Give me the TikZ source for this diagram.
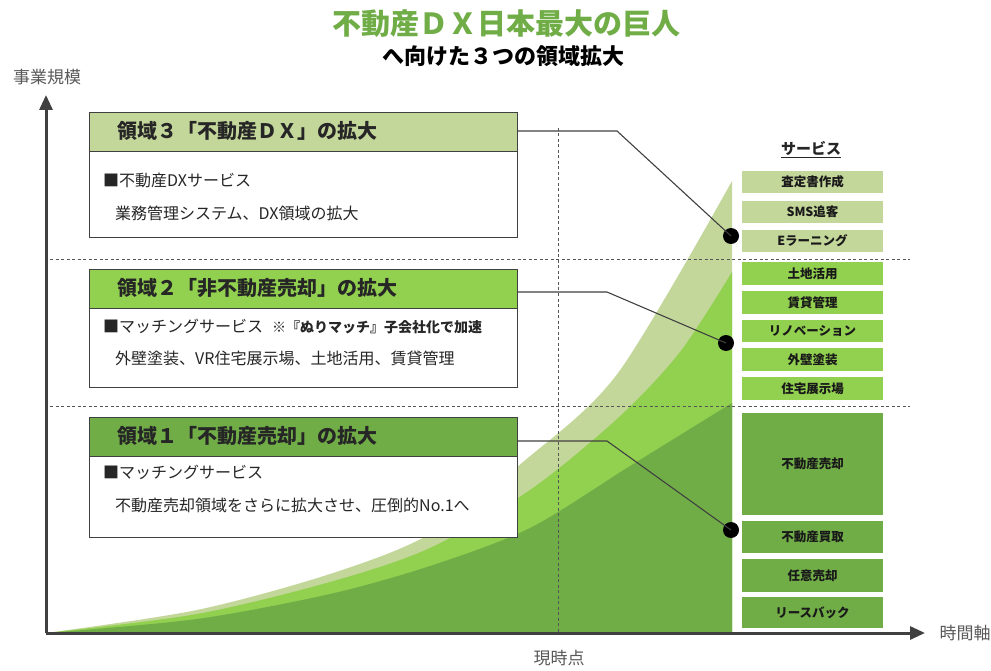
\documentclass[tikz,border=0pt]{standalone}
\usepackage{fontspec}
\setmainfont{Noto Sans CJK JP}
\usetikzlibrary{arrows.meta}
\definecolor{gOlive}{HTML}{C4D79B}
\definecolor{gLight}{HTML}{92D050}
\definecolor{gDark}{HTML}{70AD47}
\definecolor{axisc}{HTML}{404040}
\definecolor{txt}{HTML}{262626}
\definecolor{dashc}{HTML}{555555}
\tikzset{
  hdr/.style={draw=axisc, line width=1.2pt, minimum width=428pt, minimum height=39pt, inner sep=0pt},
  bodybox/.style={draw=axisc, line width=1.2pt, fill=white, minimum width=428pt, inner sep=0pt},
  hdrtext/.style={anchor=west, font=\bfseries\fontsize{20}{24}\selectfont, text=txt, inner sep=0pt},
  bodytext/.style={anchor=west, font=\fontsize{16}{19}\selectfont, text=txt, inner sep=0pt},
  svc/.style={minimum width=141pt, inner sep=0pt, font=\bfseries\fontsize{12.5}{15}\selectfont, text=black!90},
  conn/.style={draw=axisc, line width=1.1pt},
  dotc/.style={circle, fill=black, minimum size=16pt, inner sep=0pt},
  guide/.style={draw=dashc, line width=0.9pt, dash pattern=on 3pt off 2.5pt},
  axislbl/.style={font=\fontsize{17}{20}\selectfont, text=black!65},
  axisline/.style={draw=axisc, line width=3pt, -{Triangle[length=15pt,width=13pt]}}
}
\begin{document}
\begin{tikzpicture}[x=1pt,y=-1pt]
\useasboundingbox (0,0) rectangle (991,671);
\fill[white] (0,0) rectangle (991,671);

% area chart
\fill[gOlive] plot[smooth, tension=0.5] coordinates {(46,633) (197,610) (330,574) (430,534) (523,462) (618,373) (732,181)} -- (732,633) -- cycle;
\fill[gLight] plot[smooth, tension=0.5] coordinates {(46,633) (197,614) (330,582) (430,548) (530,490) (618,418) (680,352) (732,272)} -- (732,633) -- cycle;
\fill[gDark] plot[smooth, tension=0.5] coordinates {(46,633) (197,619) (330,594) (430,566) (530,528) (630,466) (732,403)} -- (732,633) -- cycle;

% guides
\draw[guide] (50,259) -- (910,259);
\draw[guide] (50,406) -- (910,406);
\draw[guide] (558,128) -- (558,633);

% title
\node[font=\bfseries\fontsize{29}{33}\selectfont, text=gDark] (title1) at (506,24) {不動産ＤＸ日本最大の巨人};
\node[font=\bfseries\fontsize{22}{26}\selectfont, text=black] (title2) at (503,56) {へ向けた３つの領域拡大};

% axes
\coordinate (origin) at (46,633);
\coordinate (ytip) at (46,95);
\coordinate (xtip) at (925,633);
\draw[axisline] (origin) -- (ytip);
\draw[axisline] (origin) -- (xtip);
\node[axislbl] (ylbl) at (47,77) {事業規模};
\node[axislbl, anchor=west] (xlbl) at (936,633) {時間軸};
\node[axislbl] (nowlbl) at (559,658) {現時点};

% box 3
\node[bodybox, minimum height=87pt, anchor=north west] (b3) at (89,150) {};
\node[hdr, fill=gOlive, anchor=north west] (h3) at (89,112) {};
\node[hdrtext] (h3t) at (117,131) {領域３「不動産ＤＸ」の拡大};
\node[bodytext] (b3a) at (103,180) {■不動産DXサービス};
\node[bodytext] (b3b) at (115,213) {業務管理システム、DX領域の拡大};

% box 2
\node[bodybox, minimum height=80pt, anchor=north west] (b2) at (89,307) {};
\node[hdr, fill=gLight, anchor=north west] (h2) at (89,269) {};
\node[hdrtext] (h2t) at (117,288) {領域２「非不動産売却」の拡大};
\node[bodytext] (b2a) at (103,327) {■マッチングサービス\hspace{9pt}{\bfseries\fontsize{14}{16}\selectfont ※『ぬりマッチ』子会社化で加速}};
\node[bodytext] (b2b) at (115,358) {外壁塗装、VR住宅展示場、土地活用、賃貸管理};

% box 1
\node[bodybox, minimum height=82pt, anchor=north west] (b1) at (89,455) {};
\node[hdr, fill=gDark, anchor=north west] (h1) at (89,417) {};
\node[hdrtext] (h1t) at (117,436) {領域１「不動産売却」の拡大};
\node[bodytext] (b1a) at (103,472) {■マッチングサービス};
\node[bodytext] (b1b) at (115,505) {不動産売却領域をさらに拡大させ、圧倒的No.1へ};

% dots and connectors
\node[dotc] (d3) at (731,236) {};
\node[dotc] (d2) at (726,343) {};
\node[dotc] (d1) at (731,530) {};
\coordinate (k3) at (617,131);
\coordinate (k2) at (607,292);
\coordinate (k1) at (607,441);
\draw[conn] (h3.east |- k3) -- (k3) -- (d3.center);
\draw[conn] (h2.east |- k2) -- (k2) -- (d2.center);
\draw[conn] (h1.east |- k1) -- (k1) -- (d1.center);

% services
\node[font=\bfseries\fontsize{15}{18}\selectfont, text=txt] (svctitle) at (811,150) {\underline{サービス}};
\foreach \n/\y/\h/\c/\t in {
  1/182/22/gOlive/査定書作成,
  2/212/22/gOlive/SMS追客,
  3/241/22/gOlive/Eラーニング,
  4/273.5/23/gLight/土地活用,
  5/302.5/23/gLight/賃貸管理,
  6/331/22/gLight/リノベーション,
  7/359.5/23/gLight/外壁塗装,
  8/388.5/23/gLight/住宅展示場,
  9/464/102/gDark/不動産売却,
  10/537/32/gDark/不動産買取,
  11/575.5/33/gDark/任意売却,
  12/612.5/31/gDark/リースバック}{
  \node[svc, fill=\c, minimum height=\h pt] (s\n) at (812.5,\y) {\t};
}
\end{tikzpicture}
\end{document}
